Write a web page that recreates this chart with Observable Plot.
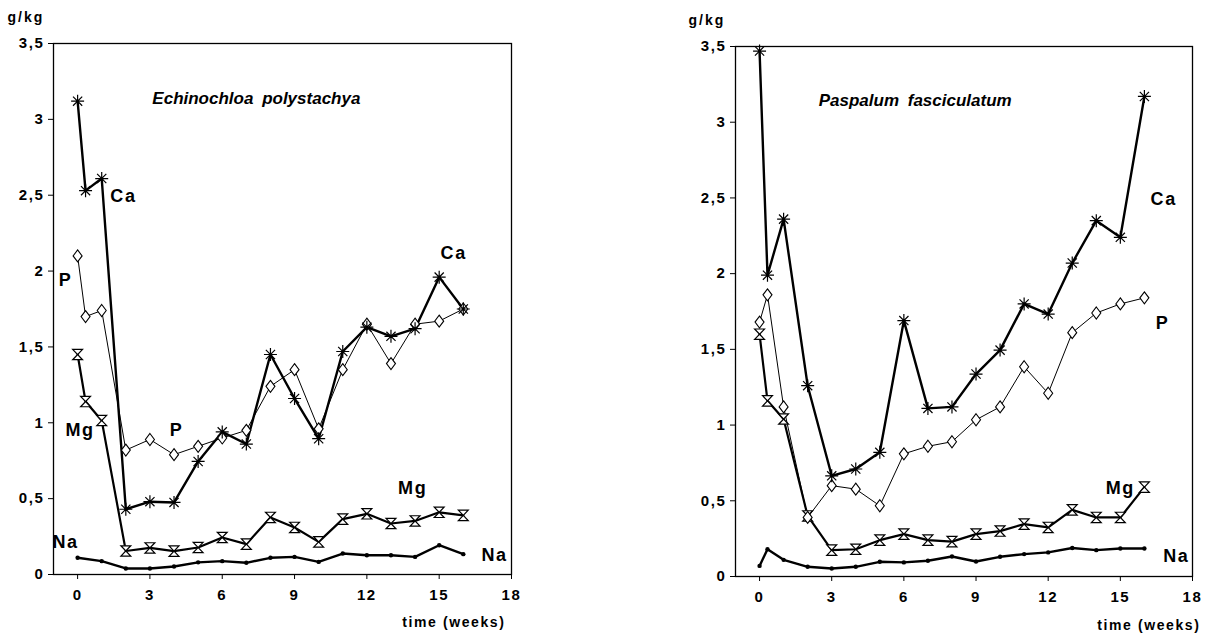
<!DOCTYPE html>
<html>
<head>
<meta charset="utf-8">
<script src="https://cdn.jsdelivr.net/npm/d3@7"></script>
<script src="https://cdn.jsdelivr.net/npm/@observablehq/plot@0.6"></script>
<style>
  html, body { margin: 0; padding: 0; background: #fff; }
  #wrap { position: relative; width: 1213px; height: 634px; overflow: hidden; background: #fff; }
  .panel { position: absolute; top: 0; }
  svg { overflow: visible; }
  svg text { letter-spacing: 1.6px; }
  svg text.title { letter-spacing: 0px; word-spacing: 4px; }
  svg text.unit { letter-spacing: 2px; }
</style>
</head>
<body>
<div id="wrap">
  <div class="panel" id="left" style="left:0px"></div>
  <div class="panel" id="right" style="left:630px"></div>
</div>
<script>
// ---------- data ----------
const weeks = [0, 0.33, 1, 2, 3, 4, 5, 6, 7, 8, 9, 10, 11, 12, 13, 14, 15, 16];
const weeksNaEch = [0, 1, 2, 3, 4, 5, 6, 7, 8, 9, 10, 11, 12, 13, 14, 15, 16];
const weeksNaPas = [0, 0.33, 1, 2, 3, 4, 5, 6, 7, 8, 9, 10, 11, 12, 13, 14, 15, 16];

// Echinochloa polystachya (g/kg)
const echCa = [3.12, 2.53, 2.61, 0.43, 0.48, 0.475, 0.745, 0.94, 0.86, 1.45, 1.16, 0.895, 1.47, 1.63, 1.57, 1.62, 1.96, 1.75];
const echP  = [2.10, 1.70, 1.74, 0.82, 0.89, 0.79, 0.845, 0.90, 0.95, 1.24, 1.35, 0.96, 1.35, 1.65, 1.39, 1.65, 1.67, 1.75];
const echMg = [1.45, 1.14, 1.015, 0.155, 0.175, 0.154, 0.178, 0.244, 0.20, 0.376, 0.31, 0.215, 0.365, 0.40, 0.336, 0.353, 0.41, 0.39];
const echNa = [0.11, 0.088, 0.04, 0.04, 0.053, 0.08, 0.088, 0.077, 0.11, 0.116, 0.083, 0.138, 0.127, 0.127, 0.116, 0.193, 0.134];

// Paspalum fasciculatum (g/kg)
const pasCa = [3.47, 1.99, 2.36, 1.26, 0.665, 0.71, 0.82, 1.69, 1.11, 1.12, 1.337, 1.495, 1.80, 1.733, 2.07, 2.35, 2.24, 3.17];
const pasP  = [1.68, 1.86, 1.12, 0.39, 0.60, 0.577, 0.467, 0.81, 0.86, 0.89, 1.035, 1.12, 1.385, 1.21, 1.61, 1.74, 1.80, 1.84];
const pasMg = [1.60, 1.16, 1.04, 0.40, 0.174, 0.18, 0.24, 0.28, 0.24, 0.23, 0.28, 0.30, 0.346, 0.324, 0.44, 0.39, 0.39, 0.59];
const pasNa = [0.07, 0.18, 0.11, 0.064, 0.053, 0.064, 0.097, 0.093, 0.104, 0.132, 0.099, 0.13, 0.148, 0.159, 0.188, 0.174, 0.185, 0.185];

const xTicks = [0, 3, 6, 9, 12, 15, 18];
const yTicks = [0, 0.5, 1, 1.5, 2, 2.5, 3, 3.5];
const titles = ["Echinochloa polystachya", "Paspalum fasciculatum"];
const yUnit = "g/kg";
const xUnit = "time (weeks)";

// ---------- symbols ----------
const rad = (size) => Math.sqrt(size / Math.PI);
const asterisk = { draw(ctx, size) { const r = rad(size), d = r * 0.7071;
  ctx.moveTo(0, -r); ctx.lineTo(0, r); ctx.moveTo(-r, 0); ctx.lineTo(r, 0);
  ctx.moveTo(-d, -d); ctx.lineTo(d, d); ctx.moveTo(-d, d); ctx.lineTo(d, -d); } };
const tallDiamond = { draw(ctx, size) { const r = rad(size), w = r * 0.75;
  ctx.moveTo(0, -r); ctx.lineTo(w, 0); ctx.lineTo(0, r); ctx.lineTo(-w, 0); ctx.closePath(); } };
const hourglass = { draw(ctx, size) { const r = rad(size), w = r * 0.95;
  ctx.moveTo(-w, -r); ctx.lineTo(w, -r); ctx.lineTo(-w, r); ctx.lineTo(w, r); ctx.closePath(); } };

const rows = (xs, ys) => xs.map((x, i) => ({ week: x, value: ys[i] }));
const comma = (d) => String(d).replace(".", ",");
const FONT = "'Liberation Sans', Arial, Helvetica, sans-serif";

function panel(cfg) {
  const ca = rows(weeks, cfg.ca), p = rows(weeks, cfg.p), mg = rows(weeks, cfg.mg), na = rows(cfg.naWeeks, cfg.na);
  const svg = Plot.plot({
    width: cfg.width, height: 634,
    marginLeft: cfg.ml, marginRight: cfg.mr, marginTop: cfg.mt, marginBottom: cfg.mb,
    x: { domain: [-1, 18] },
    y: { domain: [0, 3.5] },
    style: { fontFamily: FONT, fontSize: "15px", fontWeight: "bold", color: "black", background: "white", overflow: "visible" },
    marks: [
      Plot.axisX(xTicks, { tickSize: 5, tickPadding: 10, tickFormat: (d) => String(d), label: null, fontSize: 15, fontWeight: "bold" }),
      Plot.axisY(yTicks, { tickSize: 5, tickPadding: 4, tickFormat: comma, label: null, fontSize: 15, fontWeight: "bold" }),
      Plot.frame({ stroke: "black", strokeWidth: 1.3 }),
      Plot.line(na, { x: "week", y: "value", stroke: "black", strokeWidth: 2.4 }),
      Plot.line(mg, { x: "week", y: "value", stroke: "black", strokeWidth: 2.2 }),
      Plot.line(p, { x: "week", y: "value", stroke: "black", strokeWidth: 1 }),
      Plot.line(ca, { x: "week", y: "value", stroke: "black", strokeWidth: 2.4 }),
      Plot.dot(na, { x: "week", y: "value", r: 2.2, fill: "black", stroke: "none" }),
      Plot.dot(mg, { x: "week", y: "value", r: 5.2, symbol: hourglass, fill: "white", stroke: "black", strokeWidth: 1.2 }),
      Plot.dot(p, { x: "week", y: "value", r: 6, symbol: tallDiamond, fill: "white", stroke: "black", strokeWidth: 1.1 }),
      Plot.dot(ca, { x: "week", y: "value", r: 6.5, symbol: asterisk, fill: "none", stroke: "black", strokeWidth: 1.2 }),
      Plot.text(cfg.labels, { x: "x", y: "y", text: "t", fontSize: 18, fontWeight: "bold", fill: "black" }),
      Plot.text([cfg.title], { x: cfg.titleX, y: 3.14, textAnchor: "start", fontSize: 17, fontStyle: "italic", fontWeight: "bold", fill: "black", className: "title" }),
      Plot.text([yUnit], { frameAnchor: "top-left", dx: cfg.unitDx, dy: cfg.unitDy, textAnchor: "start", lineAnchor: "middle", fontSize: 14, fontWeight: "bold", fill: "black", className: "unit" }),
      Plot.text([xUnit], { frameAnchor: "bottom-right", dx: cfg.timeDx, dy: cfg.timeDy, textAnchor: "end", lineAnchor: "middle", fontSize: 14, fontWeight: "bold", fill: "black" })
    ]
  });
  // mark the title / unit text elements for the stylesheet
  svg.querySelectorAll("text").forEach((t) => {
    if (titles.includes(t.textContent)) t.classList.add("title");
    if (t.textContent === yUnit) t.classList.add("unit");
  });
  return svg;
}

document.getElementById("left").append(panel({
  width: 560, ml: 53, mr: 49, mt: 43, mb: 60,
  ca: echCa, p: echP, mg: echMg, na: echNa, naWeeks: weeksNaEch,
  title: titles[0], titleX: 3.1,
  unitDx: -46, unitDy: -26, timeDx: -6, timeDy: 48,
  labels: [
    { x: 1.9, y: 2.49, t: "Ca" }, { x: -0.5, y: 1.94, t: "P" }, { x: 0.1, y: 0.95, t: "Mg" },
    { x: 4.1, y: 0.95, t: "P" }, { x: -0.5, y: 0.21, t: "Na" }, { x: 15.6, y: 2.12, t: "Ca" },
    { x: 13.9, y: 0.57, t: "Mg" }, { x: 17.3, y: 0.125, t: "Na" }
  ]
}));

document.getElementById("right").append(panel({
  width: 583, ml: 105, mr: 21, mt: 46, mb: 58,
  ca: pasCa, p: pasP, mg: pasMg, na: pasNa, naWeeks: weeksNaPas,
  title: titles[1], titleX: 2.46,
  unitDx: -47, unitDy: -26, timeDx: 8, timeDy: 49,
  labels: [
    { x: 16.8, y: 2.49, t: "Ca" }, { x: 16.75, y: 1.67, t: "P" },
    { x: 15.0, y: 0.58, t: "Mg" }, { x: 17.33, y: 0.135, t: "Na" }
  ]
}));
</script>
</body>
</html>
